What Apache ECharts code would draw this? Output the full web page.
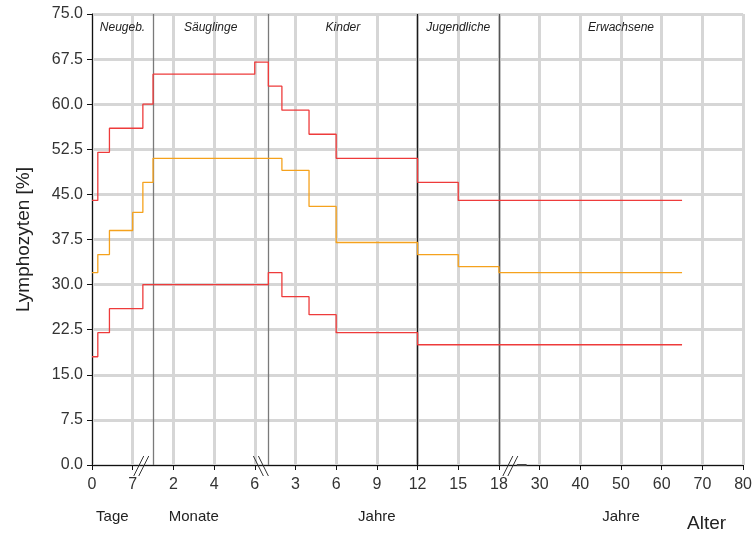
<!DOCTYPE html>
<html><head><meta charset="utf-8">
<script src="https://cdn.jsdelivr.net/npm/echarts@6/dist/echarts.min.js"></script>
<style>html,body{margin:0;padding:0;background:#fff}#c{width:755px;height:538px}</style>
</head><body><div id="c"></div>
<script>
// ---- data ----
const xTickLabels = ['0','7','2','4','6','3','6','9','12','15','18','30','40','50','60','70','80'];
const unitLabels = {'0.5':'Tage','2.5':'Monate','7':'Jahre','13':'Jahre'};
const sectionNames = ['Neugeb.','Säuglinge','Kinder','Jugendliche','Erwachsene'];
const sectionBounds = [[0,'d'],[1,'m'],[1,'y'],[12,'y'],[18,'y'],[80,'y']];
const upperAges = [[0,'d'],[1,'d'],[3,'d'],[0.5,'m'],[1,'m'],[6,'m'],[1,'y'],[2,'y'],[4,'y'],[6,'y'],[12,'y'],[15,'y'],[65,'y']];
const upperValues = [44,52,56,60,65,67,63,59,55,51,47,44];
const medianAges = [[0,'d'],[1,'d'],[3,'d'],[7,'d'],[0.5,'m'],[1,'m'],[2,'y'],[4,'y'],[6,'y'],[12,'y'],[15,'y'],[18,'y'],[65,'y']];
const medianValues = [32,35,39,42,47,51,49,43,37,35,33,32];
const lowerAges = [[0,'d'],[1,'d'],[3,'d'],[0.5,'m'],[1,'y'],[2,'y'],[4,'y'],[6,'y'],[12,'y'],[65,'y']];
const lowerValues = [18,22,26,30,32,28,25,22,20];

// piecewise (broken) age axis: days | months | years <=18 | years >18
function ageToAxis(a){
  const v=a[0], u=a[1];
  if(u==='d') return v/7;
  if(u==='m') return 1 + v/2;
  return v<=18 ? 4 + v/3 : 10 + (v-20)/10;
}
function stepData(ages, vals){
  const d = vals.map((v,i)=>[ageToAxis(ages[i]), v]);
  d.push([ageToAxis(ages[ages.length-1]), vals[vals.length-1]]);
  return d;
}
const FONT = "'Liberation Sans', Arial, sans-serif";
const RED = '#ee3b3b', ORANGE = '#f5a21d', GRID = '#d6d6d6';

const chart = echarts.init(document.getElementById('c'));
const sectionLineColors = ['#7a7a7a','#7a7a7a','#1a1a1a','#555555'];
const option = {
  animation:false,
  grid:{left:92,right:10,top:14,bottom:73},
  xAxis:[{
    type:'value',min:0,max:16,interval:1,
    axisLine:{lineStyle:{color:'#111',width:1}},
    axisTick:{length:5,lineStyle:{color:'#111'}},
    axisLabel:{margin:12,fontSize:16,color:'#333',fontFamily:FONT,
      formatter:v=>xTickLabels[Math.round(v)]},
    splitLine:{show:true,lineStyle:{color:GRID,width:3}}
  },{
    type:'value',min:0,max:16,interval:0.5,position:'bottom',
    axisLine:{show:false},axisTick:{show:false},splitLine:{show:false},
    axisLabel:{margin:44,fontSize:15,color:'#222',fontFamily:FONT,
      formatter:v=>unitLabels[String(v)]||''}
  }],
  yAxis:{
    type:'value',min:0,max:75,interval:7.5,
    name:'Lymphozyten [%]',nameLocation:'middle',nameGap:59,
    nameTextStyle:{fontSize:19,color:'#222',fontFamily:FONT},
    axisLine:{show:true,lineStyle:{color:'#111'}},
    axisTick:{show:true,length:5,lineStyle:{color:'#111'}},
    axisLabel:{margin:9,fontSize:16,color:'#333',fontFamily:FONT,formatter:v=>v.toFixed(1)},
    splitLine:{show:true,lineStyle:{color:GRID,width:3}}
  },
  series:[
    {type:'line',name:'sections',data:[],silent:true,z:3,
     markLine:{silent:true,symbol:'none',label:{show:false},
       data:sectionBounds.slice(1,5).map((a,i)=>({xAxis:ageToAxis(a),lineStyle:{color:sectionLineColors[i],width:1.3,type:'solid'}}))},
     markArea:{silent:true,itemStyle:{color:'rgba(0,0,0,0)'},
       label:{show:true,position:'insideTop',distance:8,fontSize:12,fontStyle:'italic',color:'#222',fontFamily:FONT},
       data:sectionNames.map((n,i)=>[{name:n,xAxis:ageToAxis(sectionBounds[i])},{xAxis:ageToAxis(sectionBounds[i+1])}])}
    },
    {type:'line',name:'upper',step:'end',data:stepData(upperAges,upperValues),showSymbol:false,symbol:'none',
     lineStyle:{color:RED,width:1.3},z:5},
    {type:'line',name:'median',step:'end',data:stepData(medianAges,medianValues),showSymbol:false,symbol:'none',
     lineStyle:{color:ORANGE,width:1.3},z:5},
    {type:'line',name:'lower',step:'end',data:stepData(lowerAges,lowerValues),showSymbol:false,symbol:'none',
     lineStyle:{color:RED,width:1.3},z:5}
  ]
};
chart.setOption(option);

// axis break marks (between the day / month / year / adult segments)
const breakMarks = [{at:1.21,dir:1},{at:4.15,dir:-1},{at:10.28,dir:1}];
const g = [];
breakMarks.forEach(b=>{
  const p = chart.convertToPixel({xAxisIndex:0,yAxisIndex:0},[b.at,0]);
  [-2.5,2.5].forEach(off=>{
    const cx = p[0]+off;
    g.push({type:'line',z:20,shape:{x1:cx-5*b.dir,y1:p[1]+11,x2:cx+5*b.dir,y2:p[1]-9},
      style:{stroke:'#333',lineWidth:1}});
  });
});
const s1 = chart.convertToPixel({xAxisIndex:0,yAxisIndex:0},[10.44,0]);
const s2 = chart.convertToPixel({xAxisIndex:0,yAxisIndex:0},[10.68,0]);
g.push({type:'line',z:20,shape:{x1:s1[0],y1:s1[1],x2:s2[0],y2:s2[1]},style:{stroke:'#444',lineWidth:2}});
g.push({type:'text',z:20,x:687,y:514,style:{text:'Alter',font:"normal 19px 'Liberation Sans', Arial, sans-serif",fill:'#222'}});
chart.setOption({graphic:g});
</script>
</body></html>
